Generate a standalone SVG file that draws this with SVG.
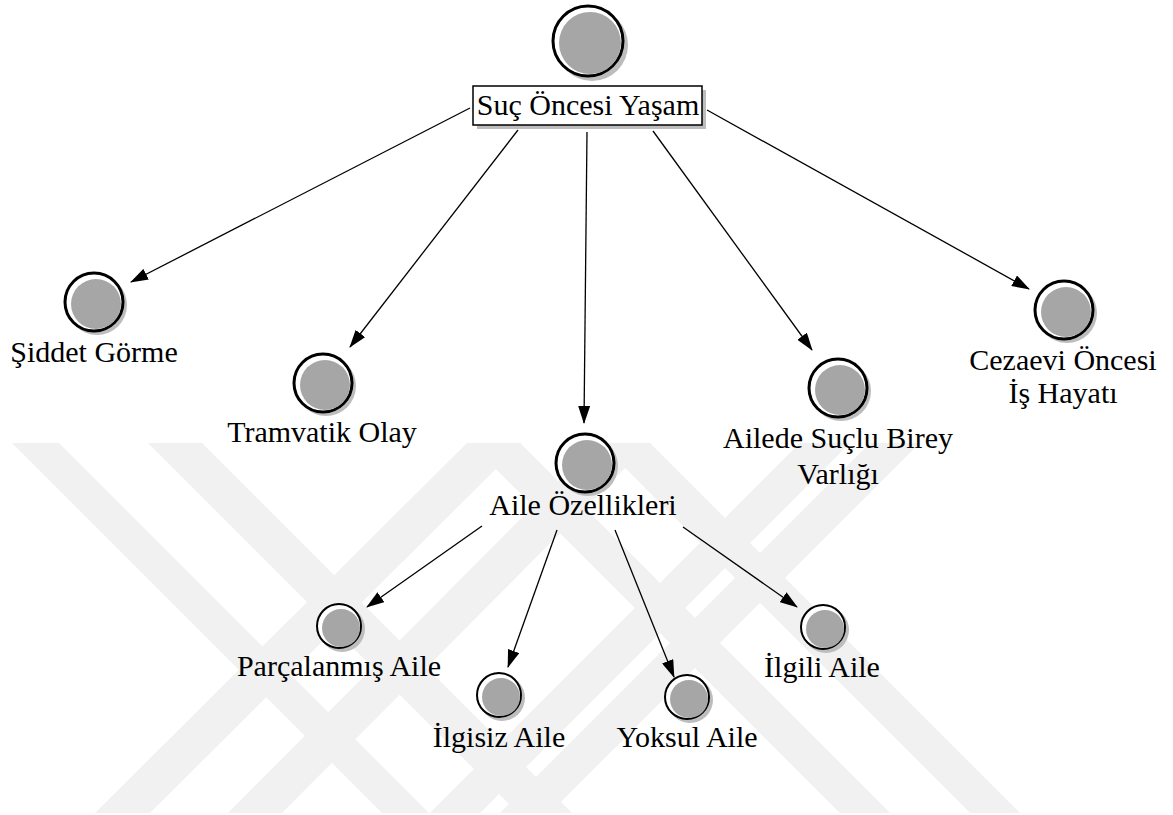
<svg xmlns="http://www.w3.org/2000/svg" width="1173" height="815" viewBox="0 0 1173 815">
<style>
.wm{fill:#f1f1f1}
.sh{fill:#bdbdbd}
.ring{fill:#fff;stroke:#000;stroke-width:3}
.ring2{fill:#fff;stroke:#000;stroke-width:2}
.core{fill:#a6a6a6}
.edge{stroke:#000;stroke-width:1.3;fill:none;marker-end:url(#ah)}
</style>
<defs>
<marker id="ah" markerUnits="userSpaceOnUse" markerWidth="18" markerHeight="12" refX="17" refY="6" orient="auto">
<path d="M0,0 L18,6 L0,12 Z" fill="#000"/>
</marker>
<clipPath id="wmclip"><rect x="0" y="443" width="1173" height="370"/></clipPath>
</defs>
<rect width="1173" height="815" fill="#fff"/>
<g id="watermark" clip-path="url(#wmclip)">
<polygon class="wm" points="12,443 59,443 429,813 382,813"/>
<polygon class="wm" points="148,443 202,443 572,813 518,813"/>
<polygon class="wm" points="467,443 522,443 150,813 95,813"/>
<polygon class="wm" points="596,443 650,443 282,813 228,813"/>
<polygon class="wm" points="470,443 520,443 890,813 840,813"/>
<polygon class="wm" points="600,443 650,443 1020,813 970,813"/>
<polygon class="wm" points="800,443 850,443 480,813 430,813"/>
<polygon class="wm" points="870,443 920,443 550,813 500,813"/>
</g>
<g id="connectors">
<line class="edge" x1="470" y1="108" x2="131" y2="282"/>
<line class="edge" x1="518" y1="130" x2="350" y2="347"/>
<line class="edge" x1="587" y1="132" x2="584" y2="423"/>
<line class="edge" x1="653" y1="131" x2="812" y2="350"/>
<line class="edge" x1="707" y1="110" x2="1029" y2="289"/>
<line class="edge" x1="482" y1="526" x2="367" y2="607"/>
<line class="edge" x1="557" y1="530" x2="508" y2="667"/>
<line class="edge" x1="615" y1="530" x2="674" y2="677"/>
<line class="edge" x1="683" y1="527" x2="797" y2="607"/>
</g>
<g font-family="Liberation Serif, Times New Roman, DejaVu Serif, serif" font-size="30" text-anchor="middle" fill="#000">
<g id="n-root">
<circle class="sh" cx="592" cy="45" r="36"/>
<circle class="ring" cx="588" cy="41" r="35"/>
<circle class="core" cx="590" cy="43" r="31"/>
<rect x="477" y="90" width="229" height="39" class="sh"/>
<rect x="473" y="86" width="229" height="39" fill="#fff" stroke="#000" stroke-width="1.5"/>
<text x="588" y="115">Suç Öncesi Yaşam</text>
</g>
<g id="n-siddet">
<circle class="sh" cx="97" cy="305" r="30"/>
<circle class="ring" cx="94" cy="302" r="29"/>
<circle class="core" cx="96" cy="304" r="25"/>
<text x="94" y="362">Şiddet Görme</text>
</g>
<g id="n-tramvatik">
<circle class="sh" cx="326" cy="386" r="30"/>
<circle class="ring" cx="323" cy="383" r="29"/>
<circle class="core" cx="325" cy="385" r="25"/>
<text x="322" y="442">Tramvatik Olay</text>
</g>
<g id="n-aile">
<circle class="sh" cx="588" cy="466" r="30"/>
<circle class="ring" cx="585" cy="463" r="29"/>
<circle class="core" cx="587" cy="465" r="25"/>
<text x="583" y="515">Aile Özellikleri</text>
</g>
<g id="n-ailede">
<circle class="sh" cx="841" cy="391" r="30"/>
<circle class="ring" cx="838" cy="388" r="29"/>
<circle class="core" cx="840" cy="390" r="25"/>
<text x="838" y="448">Ailede Suçlu Birey</text>
<text x="838" y="484">Varlığı</text>
</g>
<g id="n-cezaevi">
<circle class="sh" cx="1067" cy="313" r="30"/>
<circle class="ring" cx="1064" cy="310" r="29"/>
<circle class="core" cx="1066" cy="312" r="25"/>
<text x="1063" y="370">Cezaevi Öncesi</text>
<text x="1063" y="403">İş Hayatı</text>
</g>
<g id="n-parcalanmis">
<circle class="sh" cx="342" cy="629" r="23"/>
<circle class="ring2" cx="339" cy="626" r="22"/>
<circle class="core" cx="341" cy="628" r="19"/>
<text x="339" y="676">Parçalanmış Aile</text>
</g>
<g id="n-ilgisiz">
<circle class="sh" cx="502" cy="698" r="23"/>
<circle class="ring2" cx="499" cy="695" r="22"/>
<circle class="core" cx="501" cy="697" r="19"/>
<text x="499" y="747">İlgisiz Aile</text>
</g>
<g id="n-yoksul">
<circle class="sh" cx="690" cy="700" r="23"/>
<circle class="ring2" cx="687" cy="697" r="22"/>
<circle class="core" cx="689" cy="699" r="19"/>
<text x="687" y="747">Yoksul Aile</text>
</g>
<g id="n-ilgili">
<circle class="sh" cx="826" cy="630" r="23"/>
<circle class="ring2" cx="823" cy="627" r="22"/>
<circle class="core" cx="825" cy="629" r="19"/>
<text x="822" y="677">İlgili Aile</text>
</g>
</g>
</svg>
